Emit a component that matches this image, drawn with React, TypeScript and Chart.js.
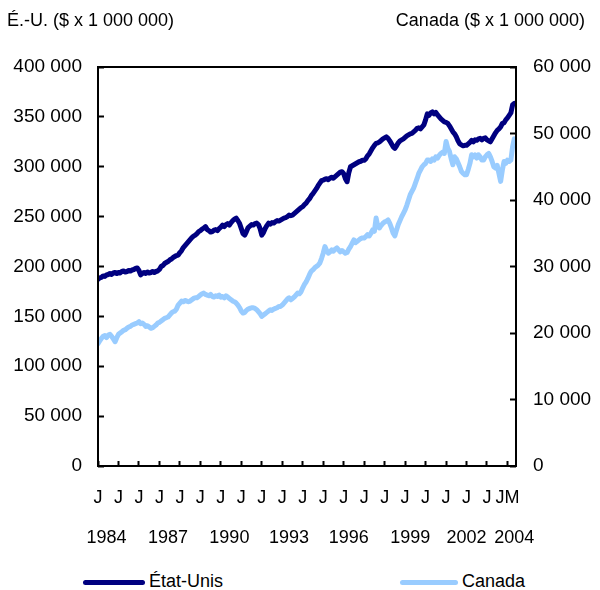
import React, { useEffect, useRef } from "react";
import { Chart, registerables } from "chart.js";

Chart.register(...registerables);

// Monthly, Jan 1984 – May 2004
const US_VALUES: number[] = [
  // 1984
  187000, 188500, 189000, 190500, 190000, 191500, 192000, 193000, 192000, 193500, 194000, 193000,
  // 1985
  194000, 193500, 195000, 195500, 194500, 195000, 196000, 195500, 196500, 197000, 198000, 198500,
  // 1986
  196000, 191500, 193000, 194000, 193000, 194500, 193500, 194000, 195000, 194000, 195000, 195500,
  // 1987
  197000, 200000, 201000, 203000, 204000, 205000, 206500, 207500, 209000, 210000, 211000, 211500,
  // 1988
  214000, 216000, 219000, 221000, 223000, 225000, 227000, 229000, 230500, 231500, 233000, 235000,
  // 1989
  236000, 237500, 238500, 240000, 237000, 236000, 234500, 235000, 236500, 237000, 236000, 238000,
  // 1990
  239500, 241500, 240000, 242000, 243000, 241500, 244000, 246000, 247500, 248500, 246000, 243000,
  // 1991
  238000, 233000, 231500, 235000, 239000, 240500, 242000, 241500, 243000, 243500, 242000, 238000,
  // 1992
  231500, 234000, 238000, 241000, 243500, 242500, 244000, 243500, 245000, 246000, 245500, 246500,
  // 1993
  247500, 248500, 249000, 250000, 251500, 251000, 251500, 253000, 254500, 256000, 257500, 259000,
  // 1994
  260000, 262000, 263500, 266000, 268000, 271000, 273000, 275500, 278000, 281000, 283500, 286000,
  // 1995
  286500, 287500, 288000, 287000, 288500, 289500, 288500, 290000, 291500, 293000, 294500, 295000,
  // 1996
  293000, 288000, 285000, 294000, 300000, 301000, 302000, 303000, 304000, 305000, 305500, 306500,
  // 1997
  306500, 308000, 311000, 313000, 316000, 319000, 321500, 323500, 324000, 325000, 326500, 328000,
  // 1998
  329000, 330000, 328500, 326000, 323000, 320000, 318500, 321000, 324000, 326000, 327000, 328000,
  // 1999
  329500, 331000, 332000, 333000, 333500, 335000, 336500, 338500, 339000, 338000, 340000, 342000,
  // 2000
  347000, 353000, 351500, 354000, 355000, 353000, 354500, 352000, 350000, 348000, 346500, 345000,
  // 2001
  344500, 343500, 341000, 338000, 335000, 333000, 330000, 326000, 323000, 322000, 321000, 321500,
  // 2002
  321500, 323000, 324500, 326500, 325000, 327000, 326500, 328000, 328500, 327000, 328500, 329000,
  // 2003
  327000, 326000, 325000, 328000, 331000, 334000, 336500, 338000, 340000, 343500, 344000, 347000,
  // 2004
  349000, 351500, 354000, 362000, 363500,
];

const CA_VALUES: number[] = [
  // 1984
  18400, 18800, 19200, 19500, 19600, 19300, 19700, 19800, 19500, 19100, 18700, 19300,
  // 1985
  19800, 20000, 20200, 20400, 20500, 20700, 20900, 21000, 21200, 21300, 21400, 21500,
  // 1986
  21700, 21400, 21500, 21300, 21000, 21100, 20900, 20700, 20800, 21000, 21200, 21500,
  // 1987
  21600, 21800, 22000, 22200, 22300, 22400, 22700, 23000, 23200, 23300, 23600, 24200,
  // 1988
  24500, 24800, 24700, 24900, 24800, 24700, 24800, 25000, 25200, 25300, 25300, 25500,
  // 1989
  25700, 25900, 26000, 25800, 25700, 25600, 25800, 25500, 25400, 25600, 25500, 25700,
  // 1990
  25400, 25500, 25300, 25600, 25400, 25200, 25000, 24800, 24700, 24500, 24200, 23800,
  // 1991
  23300, 23000, 23100, 23400, 23600, 23700, 23800, 23800, 23700, 23500, 23200, 22900,
  // 1992
  22500, 22700, 22900, 23100, 23300, 23500, 23400, 23600, 23700, 23800, 24000, 24000,
  // 1993
  24200, 24500, 24800, 25100, 25300, 25000, 25200, 25400, 25700, 26000, 25900, 26200,
  // 1994
  26800, 27300, 27700, 28200, 28800, 29300, 29500, 29800, 30000, 30200, 30500, 31200,
  // 1995
  32000, 33000, 32400, 32000, 32200, 32500, 32300, 32600, 32800, 32500, 32200, 32400,
  // 1996
  32200, 32000, 32100, 32600, 33000, 33500, 34000, 33600, 33800, 34000, 34200, 34300,
  // 1997
  34300, 34500, 34800, 34600, 35000, 35500, 35300, 37300, 36000, 35800, 36200, 36500,
  // 1998
  36700, 36800, 37000, 36500, 35800, 35000, 34600, 35500, 36300, 36900, 37500, 38000,
  // 1999
  38500, 39200, 40000, 40800, 41300, 41800, 42500, 43200, 44000, 44500, 45000, 45300,
  // 2000
  45500, 46000, 46000, 45800, 46200, 46000, 46500, 46300, 46700, 47000, 47200, 47000,
  // 2001
  48800, 47800, 47300, 46200, 45300, 46500, 46200, 45600, 45000, 44300, 44000, 43800,
  // 2002
  43800, 44600, 45500, 46800, 46500, 46800, 46300, 46800, 46500, 46000, 46000, 46500,
  // 2003
  46800, 47000, 46500, 45800, 45000, 44800, 45200, 44000, 42800, 44500, 45800, 45500,
  // 2004
  46000, 45800, 46000, 48000, 49200,
];

const MONTH_TICKS: number[] = [0, 12, 24, 36, 48, 60, 72, 84, 96, 108, 120, 132, 144, 156, 168, 180, 192, 204, 216, 228, 240];
const MONTH_TICK_LABELS: string[] = ["J", "J", "J", "J", "J", "J", "J", "J", "J", "J", "J", "J", "J", "J", "J", "J", "J", "J", "J", "J", "JM"];
const YEAR_LABELS: string[] = ["1984", "1987", "1990", "1993", "1996", "1999", "2002", "2004"];
const YEAR_TICKS: number[] = [5, 41, 77, 112, 147, 183, 216, 244];

const SERIES_US = "État-Unis";
const SERIES_CA = "Canada";
const TITLE_LEFT = "É.-U. ($ x 1 000 000)";
const TITLE_RIGHT = "Canada ($ x 1 000 000)";

const NAVY = "#000080";
const LIGHT = "#99ccff";
const FONT = "'Liberation Sans', Arial, Helvetica, sans-serif";

const fmt = (v: number) => Math.round(v).toString().replace(/\B(?=(\d{3})+(?!\d))/g, " ");

const boxPlugin = {
  id: "plotBox",
  afterDraw(chart: any) {
    const { ctx, chartArea } = chart;
    ctx.save();
    ctx.strokeStyle = "#000";
    ctx.lineWidth = 2;
    ctx.strokeRect(chartArea.left, chartArea.top, chartArea.right - chartArea.left, chartArea.bottom - chartArea.top);
    ctx.restore();
  },
};

export default function App() {
  const ref = useRef<HTMLCanvasElement | null>(null);

  useEffect(() => {
    if (!ref.current) return;
    const chart = new Chart(ref.current, {
      type: "line",
      data: {
        datasets: [
          {
            label: SERIES_US,
            data: US_VALUES.map((v, i) => ({ x: i, y: v })),
            borderColor: NAVY,
            backgroundColor: NAVY,
            borderWidth: 5,
            pointRadius: 0,
            tension: 0,
            borderJoinStyle: "round",
            borderCapStyle: "round",
            yAxisID: "y",
            xAxisID: "x",
          },
          {
            label: SERIES_CA,
            data: CA_VALUES.map((v, i) => ({ x: i, y: v })),
            borderColor: LIGHT,
            backgroundColor: LIGHT,
            borderWidth: 5,
            pointRadius: 0,
            tension: 0,
            borderJoinStyle: "round",
            borderCapStyle: "round",
            yAxisID: "y1",
            xAxisID: "x",
          },
        ],
      },
      options: {
        responsive: false,
        animation: false,
        layout: { padding: { top: 67, bottom: 4, left: 0, right: 0 } },
        plugins: {
          legend: { display: false },
          tooltip: { enabled: false },
        },
        scales: {
          x: {
            type: "linear",
            position: "bottom",
            min: 0,
            max: 245,
            afterBuildTicks: (scale: any) => {
              scale.ticks = MONTH_TICKS.map((v) => ({ value: v }));
            },
            afterFit: (scale: any) => {
              scale.height = 50;
            },
            ticks: {
              autoSkip: false,
              maxRotation: 0,
              minRotation: 0,
              padding: 26,
              color: "#000",
              font: { family: FONT, size: 18 },
              callback: (_v: any, i: number) => MONTH_TICK_LABELS[i],
            },
            grid: {
              display: true,
              drawOnChartArea: false,
              drawTicks: true,
              tickLength: -5,
              color: "#000",
              tickWidth: 2,
            },
            border: { display: false },
          },
          xYear: {
            type: "linear",
            position: "bottom",
            min: 0,
            max: 245,
            afterBuildTicks: (scale: any) => {
              scale.ticks = YEAR_TICKS.map((v) => ({ value: v }));
            },
            afterFit: (scale: any) => {
              scale.height = 40;
            },
            ticks: {
              autoSkip: false,
              maxRotation: 0,
              minRotation: 0,
              padding: 11,
              color: "#000",
              font: { family: FONT, size: 18 },
              callback: (_v: any, i: number) => YEAR_LABELS[i],
            },
            grid: { display: false, drawTicks: false },
            border: { display: false },
          },
          y: {
            type: "linear",
            position: "left",
            min: 0,
            max: 400000,
            afterFit: (scale: any) => {
              scale.width = 98;
            },
            ticks: {
              stepSize: 50000,
              padding: 22,
              color: "#000",
              font: { family: FONT, size: 19 },
              callback: (v: any) => fmt(Number(v)),
            },
            grid: {
              display: true,
              drawOnChartArea: false,
              tickLength: -6,
              color: "#000",
              tickWidth: 2,
            },
            border: { display: false },
          },
          y1: {
            type: "linear",
            position: "right",
            min: 0,
            max: 60000,
            afterFit: (scale: any) => {
              scale.width = 84;
            },
            ticks: {
              stepSize: 10000,
              padding: 23,
              color: "#000",
              font: { family: FONT, size: 19 },
              callback: (v: any) => fmt(Number(v)),
            },
            grid: {
              display: true,
              drawOnChartArea: false,
              tickLength: -6,
              color: "#000",
              tickWidth: 2,
            },
            border: { display: false },
          },
        },
      },
      plugins: [boxPlugin],
    } as any);
    return () => chart.destroy();
  }, []);

  const textStyle: React.CSSProperties = {
    position: "absolute",
    fontFamily: FONT,
    fontSize: 18,
    lineHeight: "20px",
    color: "#000",
    whiteSpace: "nowrap",
  };

  return (
    <div style={{ position: "fixed", left: 0, top: 0, width: 600, height: 590, background: "#fff", overflow: "hidden" }}>
      <canvas ref={ref} width={600} height={560} style={{ position: "absolute", left: 0, top: 0, display: "block" }} />
      <div style={{ ...textStyle, left: 7, top: 10 }}>{TITLE_LEFT}</div>
      <div style={{ ...textStyle, right: 15, top: 10 }}>{TITLE_RIGHT}</div>
      <div style={{ position: "absolute", left: 83, top: 580, width: 62, height: 5, borderRadius: 3, background: NAVY }} />
      <div style={{ ...textStyle, left: 149, top: 571 }}>{SERIES_US}</div>
      <div style={{ position: "absolute", left: 400, top: 580, width: 58, height: 5, borderRadius: 3, background: LIGHT }} />
      <div style={{ ...textStyle, left: 462, top: 571 }}>{SERIES_CA}</div>
    </div>
  );
}
